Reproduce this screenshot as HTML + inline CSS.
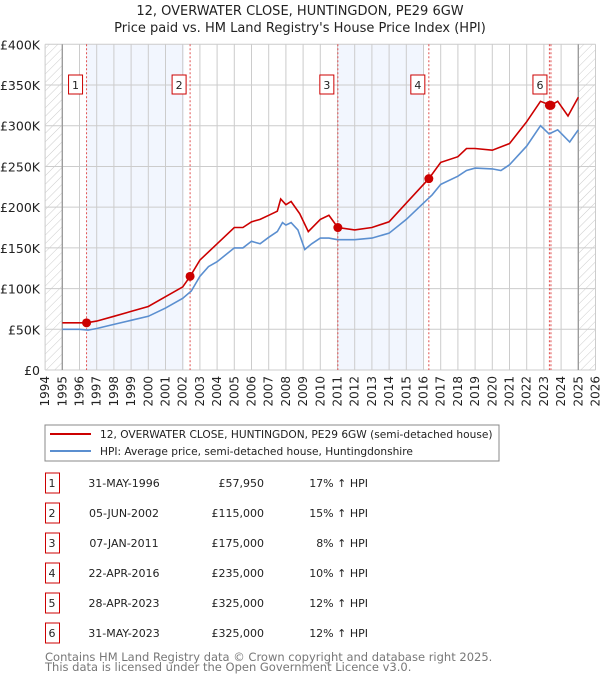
<!DOCTYPE html>
<html><head><meta charset="utf-8"><style>
body{margin:0;background:#fff;font-family:"DejaVu Sans","Liberation Sans",sans-serif;}
svg text{font-family:"DejaVu Sans","Liberation Sans",sans-serif;}
</style></head><body>
<svg id="c" width="600" height="680" xmlns="http://www.w3.org/2000/svg">
<defs><pattern id="hatch" width="6" height="6" patternUnits="userSpaceOnUse" patternTransform="rotate(45)"><line x1="0" y1="0" x2="0" y2="6" stroke="#ccc" stroke-width="1"/></pattern></defs>
<text x="300" y="15" text-anchor="middle" font-size="13" fill="#222">12, OVERWATER CLOSE, HUNTINGDON, PE29 6GW</text>
<text x="300" y="32" text-anchor="middle" font-size="13" fill="#222">Price paid vs. HM Land Registry's House Price Index (HPI)</text>
<g id="plot"></g>
<rect x="45" y="425" width="454" height="36" fill="#fff" stroke="#888"/>
<line x1="50" y1="434" x2="91" y2="434" stroke="#cc0000" stroke-width="2"/>
<text x="100" y="438" font-size="10.6" fill="#222">12, OVERWATER CLOSE, HUNTINGDON, PE29 6GW (semi-detached house)</text>
<line x1="50" y1="451" x2="91" y2="451" stroke="#5b8fd0" stroke-width="2"/>
<text x="100" y="455" font-size="10.6" fill="#222">HPI: Average price, semi-detached house, Huntingdonshire</text>
<g id="table"></g>
<text x="45" y="661" font-size="11.5" fill="#777">Contains HM Land Registry data © Crown copyright and database right 2025.</text>
<text x="45" y="671" font-size="11.5" fill="#777">This data is licensed under the Open Government Licence v3.0.</text>
</svg>
<script>
const years=[1994,1995,1996,1997,1998,1999,2000,2001,2002,2003,2004,2005,2006,2007,2008,2009,2010,2011,2012,2013,2014,2015,2016,2017,2018,2019,2020,2021,2022,2023,2024,2025,2026];
const yTicks=[0,50000,100000,150000,200000,250000,300000,350000,400000];
const yTickLabels=["£0","£50K","£100K","£150K","£200K","£250K","£300K","£350K","£400K"];
const hpiT=[1995,1996,1996.5,1997,1998,1999,2000,2001,2002,2002.5,2003,2003.5,2004,2005,2005.5,2006,2006.5,2007,2007.5,2007.8,2008,2008.3,2008.7,2009.1,2009.5,2010,2010.5,2011,2012,2013,2014,2015,2016,2016.5,2017,2018,2018.5,2019,2020,2020.5,2021,2022,2022.8,2023.3,2023.8,2024.5,2025];
const hpiV=[50000,50000,49000,51000,56000,61000,66000,76000,88000,97000,115000,127000,133000,150000,150000,158000,155000,163000,170000,181000,178000,181000,172000,148000,155000,162000,162000,160000,160000,162000,168000,185000,205000,215000,228000,238000,245000,248000,247000,245000,252000,275000,300000,290000,295000,280000,295000];
const priceT=[1995,1996.4,1997,1998,1999,2000,2001,2002,2002.43,2003,2004,2005,2005.5,2006,2006.5,2007,2007.5,2007.7,2008,2008.3,2008.8,2009.3,2010,2010.5,2011.02,2012,2013,2014,2015,2016.31,2017,2018,2018.5,2019,2020,2021,2022,2022.8,2023.4,2023.8,2024.4,2025];
const priceV=[58000,58000,60000,66000,72000,78000,90000,102000,115000,135000,155000,175000,175000,182000,185000,190000,195000,210000,203000,207000,192000,170000,185000,190000,175000,172000,175000,182000,205000,235000,255000,262000,272000,272000,270000,278000,305000,330000,325000,330000,312000,335000];
const saleLabels=["1","2","3","4","5","6"];
const saleT=[1996.41,2002.43,2011.02,2016.31,2023.32,2023.41];
const saleV=[57950,115000,175000,235000,325000,325000];
const saleDates=["31-MAY-1996","05-JUN-2002","07-JAN-2011","22-APR-2016","28-APR-2023","31-MAY-2023"];
const salePrices=["£57,950","£115,000","£175,000","£235,000","£325,000","£325,000"];
const saleHpi=["17% ↑ HPI","15% ↑ HPI","8% ↑ HPI","10% ↑ HPI","12% ↑ HPI","12% ↑ HPI"];
const NS="http://www.w3.org/2000/svg";
const X0=45.1,XW=550.4,Y0=370,YH=325.7;
const xs=t=>X0+(t-1994)/32*XW, ys=v=>Y0-v/400000*YH;
const g=document.getElementById('plot');
function mk(tag,at,parent){const e=document.createElementNS(NS,tag);for(const k in at)e.setAttribute(k,at[k]);(parent||g).appendChild(e);return e;}
// shaded bands
[[0,1],[2,3]].forEach(([a,b])=>{
 const r=mk('rect',{x:xs(saleT[a]),y:ys(400000),width:xs(saleT[b]-0.35)-xs(saleT[a]),height:YH,fill:'#eef3fd',opacity:0.75});
 
 
});
// hatch
const h1=mk('rect',{x:xs(1994),y:ys(400000),width:xs(1995)-xs(1994),height:YH,fill:'url(#hatch)'});


const h2=mk('rect',{x:xs(2025),y:ys(400000),width:xs(2026)-xs(2025),height:YH,fill:'url(#hatch)'});


// grid
years.forEach((y,i)=>{
 const l=mk('line',{x1:xs(y),x2:xs(y),y1:ys(400000),y2:Y0,stroke:'#ccc','stroke-width':1});
 
 
 const t=mk('text',{x:0,y:0,'font-size':12,fill:'#222','text-anchor':'end',transform:`translate(${xs(y)+4},${Y0+6}) rotate(-90)`});
 t.textContent=y;
 
 
});
yTicks.forEach((v,i)=>{
 const l=mk('line',{x1:xs(1994),x2:xs(2026),y1:ys(v),y2:ys(v),stroke:'#ccc','stroke-width':1});
 
 
 const t=mk('text',{x:40,y:ys(v)+5,'font-size':12.5,fill:'#222','text-anchor':'end'});
 t.textContent=yTickLabels[i];
 
 
});
[1995,2025].forEach(y=>{const l=mk('line',{x1:xs(y),x2:xs(y),y1:ys(400000),y2:Y0,stroke:'#999','stroke-width':1.3});

});
// sale lines
saleT.forEach((t,i)=>{
 const l=mk('line',{x1:xs(t),x2:xs(t),y1:ys(400000),y2:Y0,stroke:'#e05050','stroke-width':1,'stroke-dasharray':'2,2'});
 
 
});
function path(T,V,c,name){
 const d=T.map((t,i)=>(i?'L':'M')+xs(t).toFixed(1)+','+ys(V[i]).toFixed(1)).join('');
 const p=mk('path',{d:d,fill:'none',stroke:c,'stroke-width':1.6});
 
 
}
path(hpiT,hpiV,'#5b8fd0','hpi-line');
path(priceT,priceV,'#cc0000','price-line');
saleT.forEach((t,i)=>{
 const c=mk('circle',{cx:xs(t),cy:ys(saleV[i]),r:4.5,fill:'#cc0000'});
 
 
 if(i===4) return;
 const bx=xs(t)-18;
 const r=mk('rect',{x:bx,y:75,width:14,height:19,fill:'#fff',stroke:'#cc0000','stroke-width':1});
 
 
 const tx=mk('text',{x:bx+7,y:89,'font-size':11,'text-anchor':'middle',fill:'#222'});
 tx.textContent=saleLabels[i];
 
 
});
const tb=document.getElementById('table');
saleLabels.forEach((s,i)=>{
 const y=483+i*30;
 const r=mk('rect',{x:45.5,y:y-10,width:14,height:20,fill:'#fff',stroke:'#cc0000'},tb);
 
 
 const vals=[[52,s,'middle'],[124,saleDates[i],'middle'],[264,salePrices[i],'end'],[368,saleHpi[i],'end']];
 vals.forEach(([x,txt,a],j)=>{
  const t=mk('text',{x:x,y:y+4,'font-size':11,'text-anchor':a,fill:'#222'},tb);
  t.textContent=txt;
  
  
 });
});
</script>
</body></html>
